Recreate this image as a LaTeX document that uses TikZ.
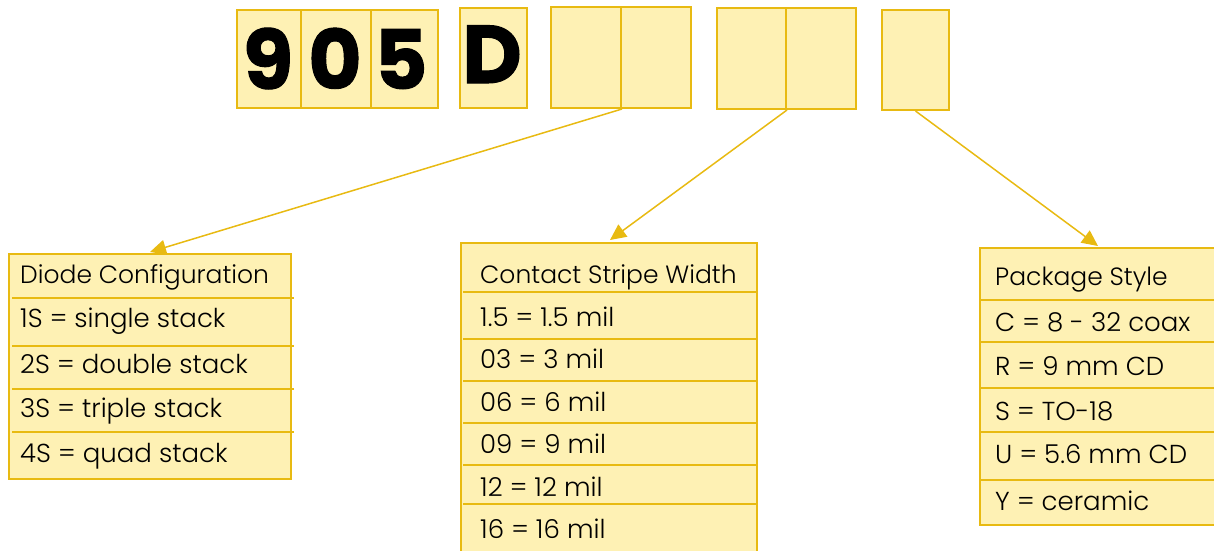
\documentclass[tikz,border=0pt]{standalone}
\usepackage{fontspec}
\setmainfont{Poppins Light}
\newfontfamily\headfont{Poppins Light}
\newfontfamily\digitfont{Poppins}
\usetikzlibrary{arrows.meta}
\definecolor{cellfill}{HTML}{FEF1B4}
\definecolor{gold}{HTML}{E8BA12}
\begin{document}
\begin{tikzpicture}[x=1pt,y=-1pt,
  cellbox/.style={draw=gold, fill=cellfill, line width=2pt, inner sep=0pt, anchor=north west},
  tablebox/.style={draw=gold, fill=cellfill, line width=1.8pt, inner sep=0pt, anchor=north west},
  divider/.style={draw=gold, line width=1.5pt},
  bigdigit/.style={inner sep=0pt, anchor=base, font=\digitfont\bfseries\addfontfeatures{FakeBold=1.2}\fontsize{82}{82}\selectfont},
  headtext/.style={inner sep=0pt, anchor=base west, font=\headfont\fontsize{25}{25}\selectfont},
  rowtext/.style={inner sep=0pt, anchor=base west, font=\fontsize{26}{26}\selectfont},
  conn/.style={draw=gold, line width=1.5pt, -{Triangle[length=16pt,width=15pt]}}]
\useasboundingbox (0,0) rectangle (1214,550);

% top code cells
\node[cellbox, minimum width=64pt, minimum height=98pt] (c9) at (236,9) {};
\node[cellbox, minimum width=70pt, minimum height=98pt] (c0) at (300,9) {};
\node[cellbox, minimum width=67pt, minimum height=98pt] (c5) at (370,9) {};
\node[cellbox, minimum width=67pt, minimum height=100pt] (cD) at (459,7) {};
\node[cellbox, minimum width=70pt, minimum height=101pt] (p1a) at (550,6) {};
\node[cellbox, minimum width=70pt, minimum height=101pt] (p1b) at (620,6) {};
\node[cellbox, minimum width=69pt, minimum height=101pt] (p2a) at (716,7) {};
\node[cellbox, minimum width=70pt, minimum height=101pt] (p2b) at (785,7) {};
\node[cellbox, minimum width=67pt, minimum height=100pt] (s1) at (881,9) {};

\node[bigdigit] (t9) at (268,89) {9};
\node[bigdigit] (t0) at (335,89) {0};
\node[bigdigit] (t5) at (401,89) {5};
\node[bigdigit] (tD) at (492,83) {D};

% left table
\node[tablebox, minimum width=282pt, minimum height=225pt] (tabL) at (8,253) {};
\draw[divider] (12,298) -- (294,298);
\draw[divider] (12,346) -- (294,346);
\draw[divider] (12,389) -- (294,389);
\draw[divider] (12,432) -- (294,432);
\node[headtext] (lh) at (20,283) {Diode Configuration};
\node[rowtext] (l1) at (20,327) {1S = single stack};
\node[rowtext] (l2) at (20,373) {2S = double stack};
\node[rowtext] (l3) at (20,417) {3S = triple stack};
\node[rowtext] (l4) at (20,462) {4S = quad stack};

% middle table
\node[tablebox, minimum width=296pt, minimum height=320pt] (tabM) at (460,242) {};
\draw[divider] (463,292) -- (757,292);
\draw[divider] (463,339) -- (757,339);
\draw[divider] (463,381) -- (757,381);
\draw[divider] (463,423) -- (757,423);
\draw[divider] (463,465) -- (757,465);
\draw[divider] (463,504) -- (757,504);
\node[headtext] (mh) at (480,283) {Contact Stripe Width};
\node[rowtext] (m1) at (480,326) {1.5 = 1.5 mil};
\node[rowtext] (m2) at (480,368) {03 = 3 mil};
\node[rowtext] (m3) at (480,411) {06 = 6 mil};
\node[rowtext] (m4) at (480,453) {09 = 9 mil};
\node[rowtext] (m5) at (480,496) {12 = 12 mil};
\node[rowtext] (m6) at (480,538) {16 = 16 mil};

% right table
\node[tablebox, minimum width=250pt, minimum height=277pt] (tabR) at (979,247) {};
\draw[divider] (979,300) -- (1220,300);
\draw[divider] (979,342) -- (1220,342);
\draw[divider] (979,388) -- (1220,388);
\draw[divider] (979,432) -- (1220,432);
\draw[divider] (979,480) -- (1220,480);
\node[headtext] (rh) at (995,285) {Package Style};
\node[rowtext] (r1) at (995,331) {C = 8 - 32 coax};
\node[rowtext] (r2) at (995,375) {R = 9 mm CD};
\node[rowtext] (r3) at (995,420) {S = TO-18};
\node[rowtext] (r4) at (995,463) {U = 5.6 mm CD};
\node[rowtext] (r5) at (995,510) {Y = ceramic};

% connectors
\coordinate (aL) at (150,252);
\coordinate (aM) at (610,240);
\coordinate (aR) at (1098,246);
\draw[conn] (p1a.south east) -- (aL);
\draw[conn] (p2a.south east) -- (aM);
\draw[conn] (s1.south) -- (aR);
\end{tikzpicture}
\end{document}
